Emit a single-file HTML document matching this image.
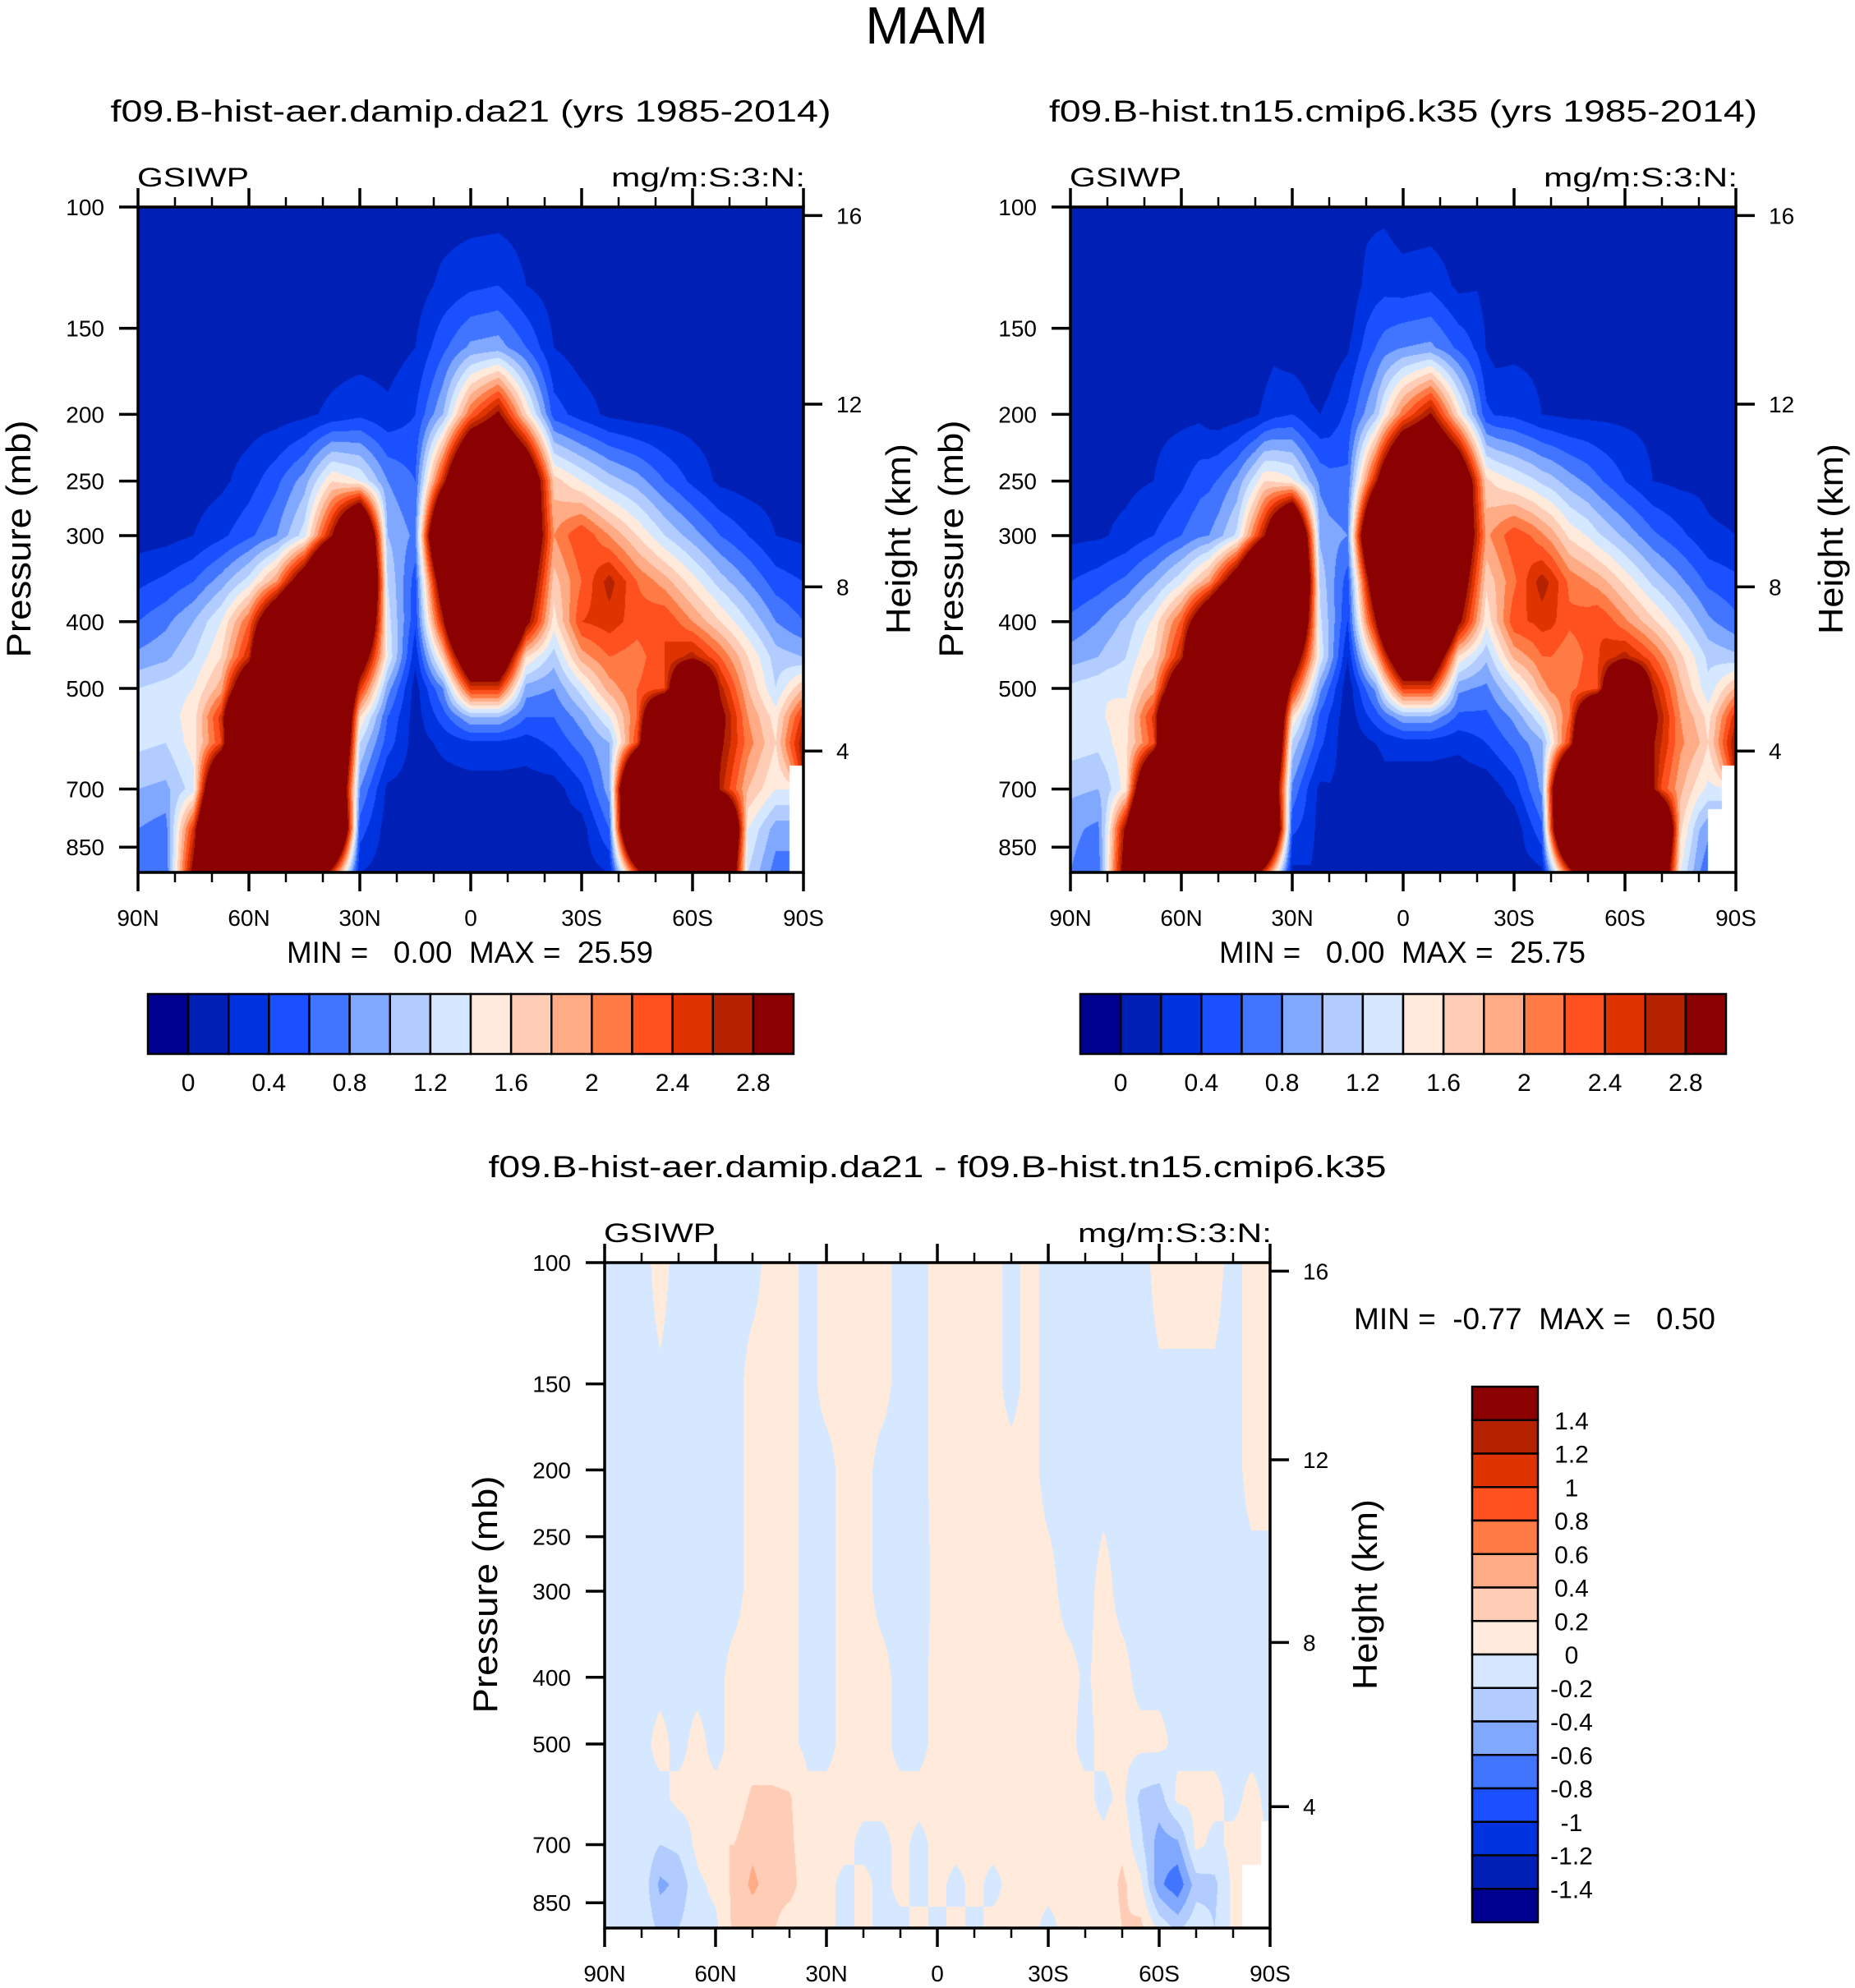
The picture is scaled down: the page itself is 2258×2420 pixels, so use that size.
<!DOCTYPE html>
<html><head><meta charset="utf-8"><title>MAM GSIWP</title>
<style>
html,body{margin:0;padding:0;background:#fff;}
#root{position:relative;width:2258px;height:2420px;overflow:hidden;background:#fff;}
canvas{position:absolute;}
svg{position:absolute;left:0;top:0;}
text{font-family:"Liberation Sans",Arial,sans-serif;fill:#000;white-space:pre;}
</style></head>
<body>
<div id="root">
<canvas id="cvA" width="810" height="810" style="left:168px;top:252px"></canvas>
<canvas id="cvB" width="810" height="810" style="left:1303px;top:252px"></canvas>
<canvas id="cvD" width="810" height="810" style="left:736px;top:1537px"></canvas>
<svg id="ov" width="2258" height="2420" viewBox="0 0 2258 2420"></svg>
</div>
<script>
// ---------------- data ----------------
const colors = ["#000090","#001fb5","#0033e0","#1a50ff","#4175ff","#80a8ff","#b3ccff","#d5e8ff","#ffeadb","#ffcdb5","#ffab85","#ff7b45","#ff5020","#e03400","#b52200","#8b0000"];
const topLevels = [0,0.2,0.4,0.6,0.8,1.0,1.2,1.4,1.6,1.8,2.0,2.2,2.4,2.6,2.8];
const topLevelLabels = ["0","0.4","0.8","1.2","1.6","2","2.4","2.8"];
const diffLevels = [-1.4,-1.2,-1.0,-0.8,-0.6,-0.4,-0.2,0,0.2,0.4,0.6,0.8,1.0,1.2,1.4];
const diffLevelLabels = ["1.4","1.2","1","0.8","0.6","0.4","0.2","0","-0.2","-0.4","-0.6","-0.8","-1","-1.2","-1.4"];
const pressureTicks = [100,150,200,250,300,400,500,700,850];
const heightTicks = [4,8,12,16];
const latTicks = [90,60,30,0,-30,-60,-90];
const latTickLabels = ["90N","60N","30N","0","30S","60S","90S"];
const latMinorTicks = [80,70,50,40,20,10,-10,-20,-40,-50,-70,-80];

// run A (f09.B-hist-aer.damip.da21): lats 90N..90S every 7.5 deg
const latsA = [90,82.5,75,67.5,60,52.5,45,37.5,30,22.5,15,7.5,0,-7.5,-15,-22.5,-30,-37.5,-45,-52.5,-60,-67.5,-75,-82.5,-90];
const presA = [100,130,160,200,250,300,350,400,450,500,550,600,700,800,925];
const valuesA = [
[0.1,0.1,0.1,0.1,0.1,0.1,0.1,0.1,0.1,0.1,0.1,0.1,0.1,0.1,0.1,0.1,0.1,0.1,0.1,0.1,0.1,0.1,0.1,0.1,0.1],
[0.1,0.1,0.1,0.1,0.1,0.1,0.1,0.1,0.1,0.1,0.1,0.25,0.35,0.4,0.2,0.1,0.1,0.1,0.1,0.1,0.1,0.1,0.1,0.1,0.1],
[0.1,0.1,0.1,0.1,0.1,0.1,0.1,0.1,0.1,0.1,0.2,0.55,0.85,0.9,0.6,0.2,0.1,0.1,0.1,0.1,0.1,0.1,0.1,0.1,0.1],
[0.1,0.1,0.1,0.1,0.1,0.1,0.15,0.25,0.35,0.25,0.4,1.0,2.2,2.9,1.6,0.5,0.3,0.15,0.1,0.1,0.1,0.1,0.1,0.1,0.1],
[0.1,0.1,0.1,0.15,0.3,0.55,0.9,1.6,1.4,0.8,0.6,2.6,5,5,4,1.7,1.4,1.1,0.9,0.6,0.35,0.15,0.1,0.1,0.1],
[0.1,0.12,0.2,0.35,0.55,0.8,1.3,2.8,5,1.0,0.75,5,6,6,4,2.0,2.4,2.0,1.6,1.2,0.9,0.6,0.4,0.2,0.15],
[0.35,0.45,0.6,0.9,1.3,2.0,3.5,6,6,1.2,0.5,3.5,6,6,3.5,1.7,2.2,2.7,2.2,1.9,1.5,1.1,0.8,0.5,0.4],
[0.6,0.75,1.0,1.4,2.2,4,6,6,5,1.3,0.45,2.7,6,6,3,1.5,2.4,2.5,2.3,2.4,2.0,1.6,1.2,0.8,0.6],
[0.85,0.95,1.2,1.6,2.6,6,6,6,3.5,1.4,0.25,1.7,4,4,1.6,1.1,1.9,2.2,2.1,2.4,2.7,2.2,1.6,1.1,1.0],
[1.2,1.3,1.4,1.9,4,6,6,6,2.5,0.9,0.1,0.8,2.5,2.5,0.9,0.8,1.3,1.9,2.2,2.4,5,2.7,1.8,1.2,1.8],
[1.3,1.3,1.5,2.5,6,6,6,6,1.6,0.6,0.1,0.5,1.0,1.0,0.6,0.6,0.9,1.4,2.2,5,6,3,2.0,1.5,2.5],
[1.25,1.2,1.5,2.4,6,6,6,6,1.2,0.5,0.1,0.25,0.35,0.35,0.3,0.45,0.7,1.0,2.4,6,6,2.9,2.1,1.6,2.8],
[1.0,0.95,1.3,5,6,6,6,5,0.8,0.15,0.1,0.1,0.1,0.1,0.1,0.1,0.35,0.9,6,6,6,2.7,1.8,1.4,null],
[0.8,0.7,2.5,6,6,6,6,6,0.5,0.1,0.1,0.1,0.1,0.1,0.1,0.1,0.1,0.6,6,6,6,6,1.4,0.9,null],
[0.75,0.6,3,5,4,5,5,2.5,0.2,0.1,0.1,0.1,0.1,0.1,0.1,0.1,0.1,0.2,2.5,5,5,5,1.2,0.7,null]
];

// difference A - B: lats 90N..90S every 5 deg
const latsD = [90,85,80,75,70,65,60,55,50,45,40,35,30,25,20,15,10,5,0,-5,-10,-15,-20,-25,-30,-35,-40,-45,-50,-55,-60,-65,-70,-75,-80,-85,-90];
const presD = [100,150,200,300,400,500,600,700,800,925];
const valuesD = [
[-0.05,-0.05,-0.05,0.05,-0.05,-0.05,-0.05,-0.05,-0.05,0.05,0.05,-0.05,0.05,0.05,0.05,0.05,-0.05,-0.05,0.05,0.05,0.05,0.05,-0.05,0.05,-0.05,-0.05,-0.05,-0.05,-0.05,-0.05,0.05,0.05,0.05,0.05,-0.05,0.05,0.05],
[-0.05,-0.05,-0.05,-0.02,-0.05,-0.05,-0.05,-0.05,0.05,0.05,0.05,-0.05,0.05,0.05,0.05,0.05,-0.05,-0.05,0.05,0.05,0.05,0.05,-0.05,0.05,-0.05,-0.05,-0.05,-0.05,-0.05,-0.05,-0.02,-0.02,-0.02,-0.02,-0.05,0.05,0.05],
[-0.05,-0.05,-0.05,-0.05,-0.05,-0.05,-0.05,-0.05,0.05,0.05,0.05,-0.05,-0.05,0.05,0.05,-0.05,-0.05,-0.05,0.05,0.05,0.05,0.05,0.05,0.05,-0.05,-0.05,-0.05,-0.05,-0.05,-0.05,-0.05,-0.05,-0.05,-0.05,-0.05,0.05,0.05],
[-0.05,-0.05,-0.05,-0.05,-0.05,-0.05,-0.05,-0.05,0.05,0.05,0.05,-0.05,-0.05,0.05,0.05,-0.05,-0.05,-0.08,0.05,0.05,0.05,0.05,0.05,0.05,0.05,-0.05,-0.05,0.05,-0.05,-0.05,-0.05,-0.05,-0.05,-0.05,-0.05,-0.05,-0.05],
[-0.05,-0.05,-0.05,-0.05,-0.05,-0.05,-0.05,0.05,0.05,0.05,0.05,-0.05,-0.05,0.05,0.05,0.05,-0.05,-0.05,0.05,0.05,0.05,0.05,0.05,0.05,0.05,0.05,-0.02,0.05,0.05,-0.05,-0.05,-0.05,-0.05,-0.05,-0.05,-0.05,-0.05],
[-0.05,-0.05,-0.05,0.05,-0.05,0.05,-0.05,0.05,0.05,0.05,0.05,-0.05,-0.05,0.05,0.05,0.05,-0.05,-0.05,0.05,0.05,0.05,0.05,0.05,0.05,0.05,0.05,-0.05,0.05,0.05,0.05,0.05,-0.05,-0.05,-0.05,-0.05,-0.05,-0.05],
[-0.05,-0.05,-0.05,-0.05,0.05,0.05,0.05,0.05,0.25,0.25,0.22,0.05,0.05,0.05,0.05,0.05,0.05,0.05,0.05,0.05,0.05,0.05,0.05,0.05,0.05,0.05,0.05,-0.05,0.05,-0.25,-0.3,0.05,0.05,0.05,-0.05,0.05,-0.05],
[-0.05,-0.05,-0.05,-0.2,-0.15,0.05,0.2,0.2,0.35,0.25,0.25,0.05,0.05,0.05,-0.05,-0.05,0.05,-0.05,0.05,0.05,0.05,0.05,0.05,0.05,0.05,0.05,0.05,0.05,0.15,-0.15,-0.5,-0.45,0.05,-0.05,0.05,0.05,null],
[-0.05,-0.05,-0.05,-0.45,-0.35,-0.05,0.05,0.25,0.45,0.3,0.3,0.05,0.05,-0.05,0.05,-0.05,0.05,-0.05,0.05,-0.05,0.05,-0.05,0.05,0.05,0.05,0.05,0.05,0.05,0.25,0.05,-0.55,-0.75,-0.3,-0.25,0.05,null,null],
[-0.05,-0.05,-0.05,-0.25,-0.2,-0.05,-0.05,0.25,0.25,0.25,0.05,0.05,0.05,-0.05,0.05,-0.05,-0.05,0.05,-0.05,0.05,-0.05,0.05,0.05,0.05,-0.05,0.05,0.05,0.05,0.2,0.25,-0.05,-0.25,-0.05,-0.2,0.05,null,null]
];

// ---------------- geometry ----------------
const PW = 810, P_TOP = 100, P_BOT = 925, LNR = Math.log(P_BOT / P_TOP);
const SVGNS = "http://www.w3.org/2000/svg";
const ov = document.getElementById("ov");
function el(tag, attrs, parent) {
  const e = document.createElementNS(SVGNS, tag);
  for (const k in attrs) e.setAttribute(k, attrs[k]);
  (parent || ov).appendChild(e);
  return e;
}
function txt(s, attrs, parent) { const t = el("text", attrs, parent); t.textContent = s; return t; }
function zToP(z) {
  return z <= 11 ? 1013.25 * Math.pow(1 - 0.0065 * z * 1000 / 288.15, 5.2559)
                 : 226.32 * Math.exp(-(z - 11) * 1000 / 6341.6);
}
function hexRgb(h) { return [parseInt(h.substr(1,2),16), parseInt(h.substr(3,2),16), parseInt(h.substr(5,2),16)]; }
const rgb = colors.map(hexRgb);

function makeSampler(lats, pres, grid) {
  const lnp = pres.map(p => Math.log(p));
  const nc = lats.length, step = lats[0] - lats[1];
  return function (lat, p) {
    let fc = (lats[0] - lat) / step; fc = Math.max(0, Math.min(nc - 1, fc));
    let c0 = Math.floor(fc); if (c0 >= nc - 1) c0 = nc - 2; const tx = fc - c0;
    const lp = Math.log(p);
    let r0 = 0; while (r0 < pres.length - 2 && lnp[r0 + 1] < lp) r0++;
    let ty = (lp - lnp[r0]) / (lnp[r0 + 1] - lnp[r0]); ty = Math.max(0, Math.min(1, ty));
    const v = [grid[r0][c0], grid[r0][c0 + 1], grid[r0 + 1][c0], grid[r0 + 1][c0 + 1]];
    const w = [(1 - tx) * (1 - ty), tx * (1 - ty), (1 - tx) * ty, tx * ty];
    const near = (ty < 0.5 ? 0 : 2) + (tx < 0.5 ? 0 : 1);
    if (v[near] === null) return null;
    let s = 0, ws = 0;
    for (let i = 0; i < 4; i++) if (v[i] !== null) { s += v[i] * w[i]; ws += w[i]; }
    return s / ws;
  };
}
const sampleA = makeSampler(latsA, presA, valuesA);
const sampleD = makeSampler(latsD, presD, valuesD);
const sampleB = (lat, p) => { const a = sampleA(lat, p), d = sampleD(lat, p); return (a === null || d === null) ? null : a - d; };

function render(id, fn, levels) {
  const cv = document.getElementById(id), ctx = cv.getContext("2d");
  const img = ctx.createImageData(PW, PW);
  for (let y = 0; y < PW; y++) {
    const p = P_TOP * Math.exp((y + 0.5) / PW * LNR);
    for (let x = 0; x < PW; x++) {
      const lat = 90 - 180 * (x + 0.5) / PW;
      const v = fn(lat, p);
      const o = (y * PW + x) * 4;
      let c = [255, 255, 255];
      if (v !== null) { let k = 0; while (k < levels.length && v >= levels[k]) k++; c = rgb[k]; }
      img.data[o] = c[0]; img.data[o + 1] = c[1]; img.data[o + 2] = c[2]; img.data[o + 3] = 255;
    }
  }
  ctx.putImageData(img, 0, 0);
}
render("cvA", sampleA, topLevels);
render("cvB", sampleB, topLevels);
render("cvD", sampleD, diffLevels);

// ---------------- axes ----------------
function axes(ox, oy, title, titleLen, prefix) {
  const g = el("g", {});
  
  
  const xOf = lat => ox + PW * (90 - lat) / 180;
  const yOf = p => oy + PW * Math.log(p / P_TOP) / LNR;
  const t = txt(title, {x: ox + PW / 2, y: oy - 104, "font-size": 37, "text-anchor": "middle", textLength: titleLen, lengthAdjust: "spacingAndGlyphs"}, g);
  
  
  const l1 = txt("GSIWP", {x: ox - 1, y: oy - 25, "font-size": 32, textLength: 136, lengthAdjust: "spacingAndGlyphs"}, g);
  
  
  const l2 = txt("mg/m:S:3:N:", {x: ox + PW + 2, y: oy - 25, "font-size": 32, "text-anchor": "end", textLength: 236, lengthAdjust: "spacingAndGlyphs"}, g);
  
  
  pressureTicks.forEach(p => {
    const y = yOf(p);
    const tk = el("line", {x1: ox - 23, x2: ox, y1: y, y2: y, stroke: "#000", "stroke-width": 3.5}, g);
    
    
    const lb = txt(String(p), {x: ox - 41, y: y + 10, "font-size": 28, "text-anchor": "end"}, g);
    
    
  });
  heightTicks.forEach(z => {
    const y = yOf(zToP(z));
    const tk = el("line", {x1: ox + PW, x2: ox + PW + 23, y1: y, y2: y, stroke: "#000", "stroke-width": 3.5}, g);
    
    
    const lb = txt(String(z), {x: ox + PW + 40, y: y + 10, "font-size": 28}, g);
    
    
  });
  latTicks.forEach((lat, i) => {
    const x = xOf(lat);
    const tb = el("line", {x1: x, x2: x, y1: oy + PW, y2: oy + PW + 23, stroke: "#000", "stroke-width": 3.5}, g);
    
    
    const tt = el("line", {x1: x, x2: x, y1: oy - 23, y2: oy, stroke: "#000", "stroke-width": 3.5}, g);
    
    
    const lb = txt(latTickLabels[i], {x: x, y: oy + PW + 65, "font-size": 28, "text-anchor": "middle"}, g);
    
    
  });
  latMinorTicks.forEach(lat => {
    const x = xOf(lat);
    const tb = el("line", {x1: x, x2: x, y1: oy + PW, y2: oy + PW + 12, stroke: "#000", "stroke-width": 2.5}, g);
    
    
    const tt = el("line", {x1: x, x2: x, y1: oy - 12, y2: oy, stroke: "#000", "stroke-width": 2.5}, g);
    
    
  });
  const fr = el("rect", {x: ox, y: oy, width: PW, height: PW, fill: "none", stroke: "#000", "stroke-width": 3.5}, g);
  
  
  const yt = txt("Pressure (mb)", {x: 0, y: 0, "font-size": 42, "text-anchor": "middle", textLength: 289, lengthAdjust: "spacingAndGlyphs", transform: "translate(" + (ox - 131) + "," + (oy + 404) + ") rotate(-90)"}, g);
  
  
  const ht = txt("Height (km)", {x: 0, y: 0, "font-size": 42, "text-anchor": "middle", textLength: 232, lengthAdjust: "spacingAndGlyphs", transform: "translate(" + (ox + PW + 130) + "," + (oy + 404) + ") rotate(-90)"}, g);
  
  
}
axes(168, 252, "f09.B-hist-aer.damip.da21 (yrs 1985-2014)", 877, "left");
axes(1303, 252, "f09.B-hist.tn15.cmip6.k35 (yrs 1985-2014)", 862, "right");
axes(736, 1537, "f09.B-hist-aer.damip.da21 - f09.B-hist.tn15.cmip6.k35", 1093, "diff");

const mt = txt("MAM", {x: 1128, y: 53, "font-size": 64, "text-anchor": "middle"});



const s1 = txt("MIN =   0.00  MAX =  25.59", {x: 572, y: 1172, "font-size": 37, "text-anchor": "middle", textLength: 446, lengthAdjust: "spacingAndGlyphs"});


const s2 = txt("MIN =   0.00  MAX =  25.75", {x: 1707, y: 1172, "font-size": 37, "text-anchor": "middle", textLength: 446, lengthAdjust: "spacingAndGlyphs"});


const s3 = txt("MIN =  -0.77  MAX =   0.50", {x: 1648, y: 1618, "font-size": 37, textLength: 440, lengthAdjust: "spacingAndGlyphs"});



function hbar(x0, prefix) {
  const bw = 786 / 16, y0 = 1210, h = 73;
  colors.forEach((c, i) => {
    const r = el("rect", {x: x0 + i * bw, y: y0, width: bw, height: h, fill: c, stroke: "#000", "stroke-width": 2.5});
    
    
  });
  topLevelLabels.forEach((s, j) => {
    const lb = txt(s, {x: x0 + (1 + 2 * j) * bw, y: 1328, "font-size": 30, "text-anchor": "middle"});
    
    
  });
}
hbar(180, "left");
hbar(1315, "right");

(function () {
  const x0 = 1792, y0 = 1688, w = 80, bh = 652 / 16;
  for (let i = 0; i < 16; i++) {
    const r = el("rect", {x: x0, y: y0 + i * bh, width: w, height: bh, fill: colors[15 - i], stroke: "#000", "stroke-width": 2.5});
    
    
  }
  diffLevelLabels.forEach((s, k) => {
    const lb = txt(s, {x: 1913, y: y0 + (k + 1) * bh + 11, "font-size": 30, "text-anchor": "middle"});
    
    
  });
})();
</script>
</body></html>
